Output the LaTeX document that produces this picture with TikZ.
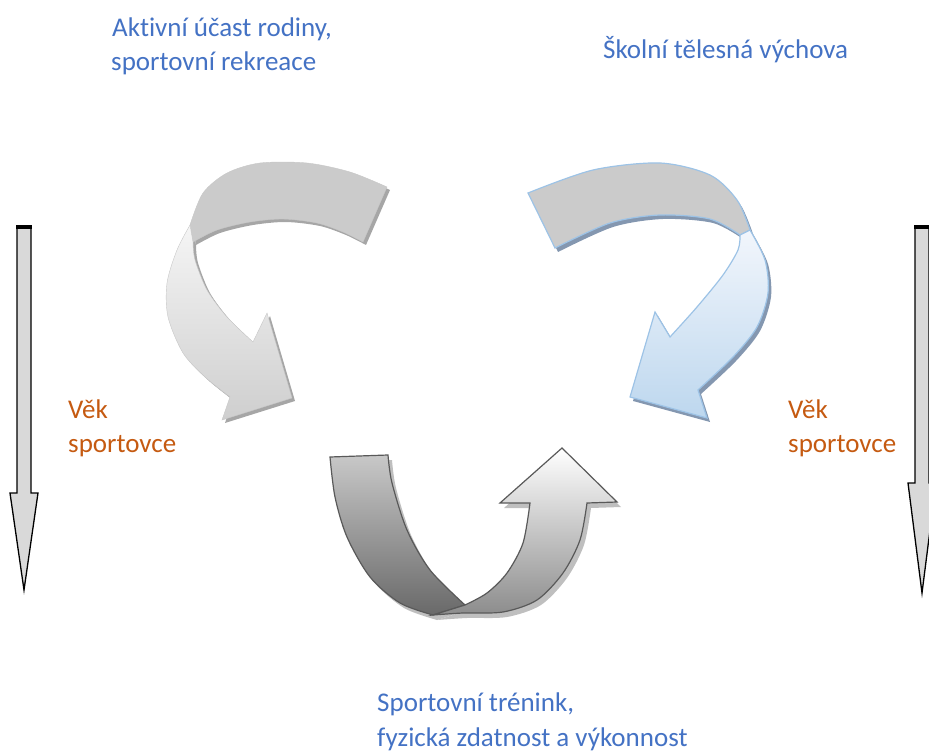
\documentclass[tikz,border=0pt]{standalone}
\usepackage{fontspec}
\setmainfont{Carlito}[Ligatures=NoCommon]
\usepackage{tikz}
\definecolor{capblue}{HTML}{4472C4}
\definecolor{agecolor}{HTML}{C55A11}
\definecolor{ribbongray}{HTML}{CBCBCB}
\definecolor{ribbonblue}{HTML}{9DC3E6}
\definecolor{blueshadow}{HTML}{8497B0}
\definecolor{bluetop}{HTML}{F2F6FC}
\definecolor{bluebottom}{HTML}{BDD7EE}
\definecolor{darktop}{HTML}{C8C8C8}
\definecolor{darkbottom}{HTML}{696969}
\definecolor{lightbottom}{HTML}{8C8C8C}
\tikzstyle{bluetext}=[text=capblue, anchor=base west, inner sep=0pt, font=\fontsize{27}{32}\selectfont]
\tikzstyle{agetext}=[text=agecolor, anchor=base west, inner sep=0pt, font=\fontsize{27}{32}\selectfont]
\tikzstyle{agearrow}=[draw=black, line width=1.3pt, fill=black!15, line join=miter]
\tikzstyle{shadowed}=[fill=#1, draw=none]
\tikzset{
  bandAone/.style={insert path={plot[smooth] coordinates {(387,187) (350,172) (307,163) (260,163) (227,173) (203,193) (190,225)} -- (193,242) -- plot[smooth] coordinates {(193,242) (217,230) (250,222) (283,219) (317,223) (343,232) (363,242)} -- cycle}},
  bandAtwo/.style={insert path={plot[smooth] coordinates {(190,225) (177,250) (167,283) (168,317) (183,353) (205,377) (230,397)} -- (222,420) -- (292,398) -- (267,313) -- (253,342) -- plot[smooth] coordinates {(253,342) (227,317) (207,290) (195,260) (193,242)} -- cycle}},
  bandBone/.style={insert path={plot[smooth] coordinates {(528,193) (593,170) (660,163) (710,175) (737,200) (750,230)} -- (740,235) -- plot[smooth] coordinates {(740,235) (710,219) (660,215) (610,223) (555,248)} -- cycle}},
  bandBtwo/.style={insert path={plot[smooth] coordinates {(750,230) (765,260) (768,293) (757,327) (733,357) (698,390)} -- (707,418) -- (630,397) -- (655,312) -- (670,337) -- plot[smooth] coordinates {(670,337) (697,307) (723,275) (738,250) (740,235)} -- cycle}},
  bandCone/.style={insert path={plot[smooth] coordinates {(330,457) (335,497) (347,537) (370,577) (400,603) (433,615)} -- (465,605) -- plot[smooth] coordinates {(465,605) (430,570) (407,530) (392,483) (388,455)} -- cycle}},
  bandCtwo/.style={insert path={plot[smooth] coordinates {(433,615) (463,613) (503,612) (537,600) (563,573) (580,540) (587,503)} -- (617,502) -- (562,448) -- (500,503) -- (530,503) -- plot[smooth] coordinates {(530,503) (523,543) (507,573) (487,593) (465,605)} -- cycle}}
}

\begin{document}
\begin{tikzpicture}[x=1pt, y=-1pt]
  \useasboundingbox (0,0) rectangle (929,751);
  % family and recreation arrow
  \path[shadowed=black!35, shift={(3,3)}, bandAone];
  \path[shadowed=black!35, shift={(3,3)}, bandAtwo];
  \path[fill=ribbongray, draw=black!22, bandAone];
  \path[top color=black!4, bottom color=black!19, draw=black!22, bandAtwo];
  % school arrow
  \path[shadowed=blueshadow, shift={(3,4)}, bandBone];
  \path[shadowed=blueshadow, shift={(3,4)}, bandBtwo];
  \path[fill=ribbongray, draw=ribbonblue, line width=1.2pt, bandBone];
  \path[top color=bluetop, bottom color=bluebottom, draw=ribbonblue, line width=1.2pt, bandBtwo];
  % training arrow
  \path[shadowed=black!25, shift={(4,5)}, bandCone];
  \path[shadowed=black!25, shift={(4,5)}, bandCtwo];
  \path[top color=darktop, bottom color=darkbottom, draw=black!65, line width=1.2pt, bandCone];
  \path[top color=white, bottom color=lightbottom, draw=black!65, line width=1.2pt, bandCtwo];
  % age arrows
  \draw[agearrow] (17,227) -- (17,493) -- (10,493) -- (24,590) -- (38,493) -- (31,493) -- (31,227) -- cycle;
  \draw[line width=4pt] (16,227) -- (32,227);
  \draw[agearrow] (915,227) -- (915,483) -- (908,483) -- (922,593) -- (936,483) -- (929,483) -- (929,227) -- cycle;
  \draw[line width=4pt] (914,227) -- (930,227);
  % captions
  \node[bluetext] (family1) at (112,37) {Aktivní účast rodiny,};
  \node[bluetext] (family2) at (111,71) {sportovní rekreace};
  \node[bluetext] (school) at (603,59) {Školní tělesná výchova};
  \node[agetext] (ageL1) at (68,418) {Věk};
  \node[agetext] (ageL2) at (68,452) {sportovce};
  \node[agetext] (ageR1) at (788,418) {Věk};
  \node[agetext] (ageR2) at (788,452) {sportovce};
  \node[bluetext] (train1) at (377,711) {Sportovní trénink,};
  \node[bluetext] (train2) at (377,746) {fyzická zdatnost a výkonnost};
\end{tikzpicture}
\end{document}
